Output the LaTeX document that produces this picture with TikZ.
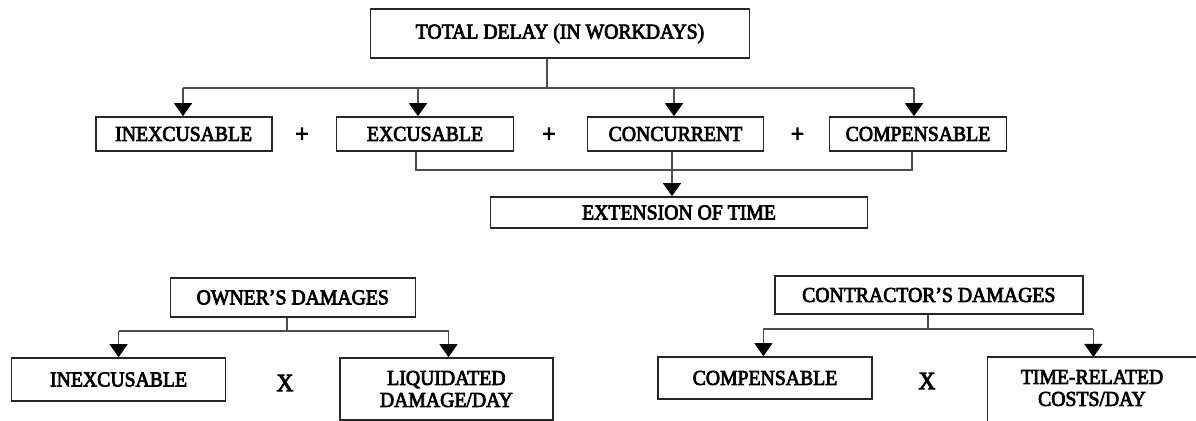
\documentclass[tikz,border=0pt]{standalone}
\usepackage{fontspec}
\setmainfont[FakeStretch=0.93,FakeBold=3.5]{Liberation Serif}
\usetikzlibrary{arrows.meta}
\tikzstyle{box} = [rectangle, draw=black!85, line width=0.8pt, inner sep=0pt, align=center, font=\fontsize{10.6}{11}\selectfont]
\tikzstyle{link} = [draw=black!70, line width=0.55pt]
\tikzstyle{arr} = [link, -{Triangle[width=9pt,length=6.5pt,fill=black,color=black]}]
\tikzstyle{op} = [font=\fontsize{12.5}{12.5}\selectfont]

\begin{document}
\begin{tikzpicture}[x=0.5pt,y=-0.5pt]
\useasboundingbox (0,0) rectangle (1196,421);
\clip (0,0) rectangle (1196,421);
% total delay and its parts
\node[box, minimum width=189.5pt, minimum height=24.5pt] (total) at (560,33.5) {TOTAL DELAY (IN WORKDAYS)};
\node[box, minimum width=88pt, minimum height=17pt] (inexA) at (183.7,134) {INEXCUSABLE};
\node[box, minimum width=88.5pt, minimum height=17pt] (exc) at (425,134) {EXCUSABLE};
\node[box, minimum width=88pt, minimum height=17pt] (conc) at (675.5,134) {CONCURRENT};
\node[box, minimum width=88.5pt, minimum height=17pt] (compA) at (918,134) {COMPENSABLE};
\node[op] (plusA) at (302,135) {+};
\node[op] (plusB) at (549,135) {+};
\node[op] (plusC) at (797.5,135) {+};
\node[box, minimum width=188.5pt, minimum height=15.5pt] (ext) at (679,212.5) {EXTENSION OF TIME};
\coordinate (split) at (547,88);
\draw[link] (total.south -| split) -- (split);
\draw[link] (183,88) -- (914,88);
\draw[arr] (183,88) -- (inexA.north -| 183,0);
\draw[arr] (418,88) -- (exc.north -| 418,0);
\draw[arr] (674,88) -- (conc.north -| 674,0);
\draw[arr] (914,88) -- (compA.north -| 914,0);
\draw[link] (exc.south -| 416,0) |- (672,170) -| (compA.south -| 912,0);
\draw[arr] (conc.south -| 672,0) -- (ext.north -| 672,0);
% owner's damages
\node[box, minimum width=122.5pt, minimum height=19.5pt] (owner) at (292.8,297.5) {OWNER'S DAMAGES};
\node[box, minimum width=107pt, minimum height=21.5pt] (inexB) at (118.6,379.5) {INEXCUSABLE};
\node[box, minimum width=106.5pt, minimum height=31pt] (liq) at (446.4,389) {LIQUIDATED\\DAMAGE/DAY};
\node[op] (timesA) at (285,383) {X};
\draw[link] (owner.south -| 287,0) -- (287,331);
\draw[link] (118.6,331) -- (448.5,331);
\draw[arr] (118.6,331) -- (inexB.north -| 118.6,0);
\draw[arr] (448.5,331) -- (liq.north -| 448.5,0);
% contractor's damages
\node[box, minimum width=154pt, minimum height=19pt] (contr) at (928.8,295) {CONTRACTOR'S DAMAGES};
\node[box, minimum width=107pt, minimum height=21pt] (compB) at (765,378) {COMPENSABLE};
\node[box, draw=none] (timecost) at (1092,388) {TIME-RELATED\\COSTS/DAY};
\draw[box] (987.5,357) rectangle (1260,470);
\node[op] (timesB) at (927,381) {X};
\draw[link] (contr.south -| 928,0) -- (928,329);
\draw[link] (763.4,329) -- (1093.4,329);
\draw[arr] (763.4,329) -- (compB.north -| 763.4,0);
\draw[arr] (1093.4,329) -- (1093.4,357);
\end{tikzpicture}
\end{document}
